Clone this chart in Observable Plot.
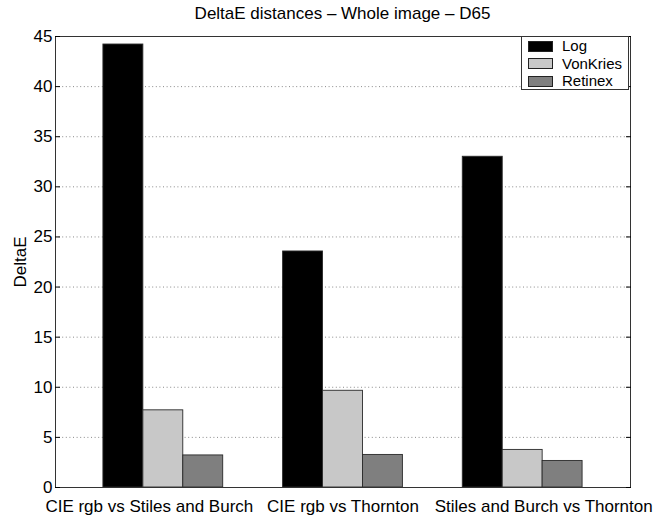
<!DOCTYPE html>
<html><head><meta charset="utf-8">
<script src="https://cdn.jsdelivr.net/npm/d3@7"></script>
<script src="https://cdn.jsdelivr.net/npm/@observablehq/plot@0.6"></script>
<style>
body{margin:0;background:#fff;font-family:"Liberation Sans",Arial,Helvetica,sans-serif;}
#wrap{position:relative;width:667px;height:525px;}
#title{position:absolute;left:55px;width:575px;top:4px;text-align:center;font-size:17px;color:#000;}
#legend{position:absolute;left:521px;top:36px;width:108px;height:54px;border:1px solid #333;background:#fff;box-sizing:border-box;}
.lrow{position:absolute;left:6px;height:12px;display:flex;align-items:center;}
.sw{width:25px;height:11px;border:1px solid #222;box-sizing:border-box;}
.lt{position:absolute;left:34px;top:-3px;font-size:15px;line-height:17px;height:17px;white-space:nowrap;color:#000;}
</style></head>
<body><div id="wrap"><div id="chart"></div><div id="title">DeltaE distances – Whole image – D65</div><div id="legend"></div></div>
<script>
const categories = ["CIE rgb vs Stiles and Burch", "CIE rgb vs Thornton", "Stiles and Burch vs Thornton"];
const seriesNames = ["Log", "VonKries", "Retinex"];
const logValues = [44.2, 23.55, 33.0];
const vonKriesValues = [7.7, 9.65, 3.75];
const retinexValues = [3.2, 3.25, 2.65];
const yTicks = [0, 5, 10, 15, 20, 25, 30, 35, 40, 45];
const seriesColors = ["#000000", "#c8c8c8", "#7f7f7f"];

const seriesValues = [logValues, vonKriesValues, retinexValues];
const groupWidth = 2 / 3, barWidth = groupWidth / seriesNames.length;
const rows = [];
categories.forEach((c, i) => {
  seriesNames.forEach((s, j) => {
    rows.push({group: i + 1, slot: j, category: c, series: s, value: seriesValues[j][i]});
  });
});

const xLabel = (g, dx) => Plot.axisX([g], {tickSize: 0, tickPadding: 12, dx, tickFormat: i => categories[i - 1], label: null});

const chart = Plot.plot({
  width: 667, height: 525,
  marginLeft: 55, marginRight: 37, marginTop: 36, marginBottom: 38,
  style: {fontSize: "17px", fontFamily: "'Liberation Sans', Arial, Helvetica, sans-serif", background: "#fff", color: "#000"},
  x: {domain: [0.4, 3.6]},
  y: {domain: [0, 45]},
  color: {domain: seriesNames, range: seriesColors},
  marks: [
    Plot.gridY(yTicks.slice(1, -1), {stroke: "#8a8a8a", strokeOpacity: 1, strokeDasharray: "1,2.6"}),
    Plot.rectY(rows, {
      x1: d => d.group - groupWidth / 2 + d.slot * barWidth,
      x2: d => d.group - groupWidth / 2 + (d.slot + 1) * barWidth,
      y: "value", fill: "series", stroke: "#2a2a2a", strokeWidth: 0.9
    }),
    Plot.frame({stroke: "#333"}),
    Plot.axisY(yTicks, {anchor: "left", tickSize: 0, tickPadding: 3, label: "DeltaE", labelAnchor: "center", labelOffset: 42, labelArrow: "none"}),
    Plot.axisY(yTicks, {anchor: "left", tickSize: -5, tickFormat: () => "", label: null}),
    Plot.axisY(yTicks, {anchor: "right", tickSize: -5, tickFormat: () => "", label: null}),
    xLabel(1, -14),
    xLabel(2, 0),
    xLabel(3, 21)
  ]
});
document.getElementById("chart").appendChild(chart);

const legend = document.getElementById("legend");
seriesNames.forEach((s, j) => {
  const row = document.createElement("div");
  row.className = "lrow";
  row.style.top = (3 + j * 17.5) + "px";
  const sw = document.createElement("div");
  sw.className = "sw";
  sw.style.background = seriesColors[j];
  const t = document.createElement("span");
  t.className = "lt";
  t.textContent = s;
  row.appendChild(sw);
  row.appendChild(t);
  legend.appendChild(row);
});
</script>
</body></html>
